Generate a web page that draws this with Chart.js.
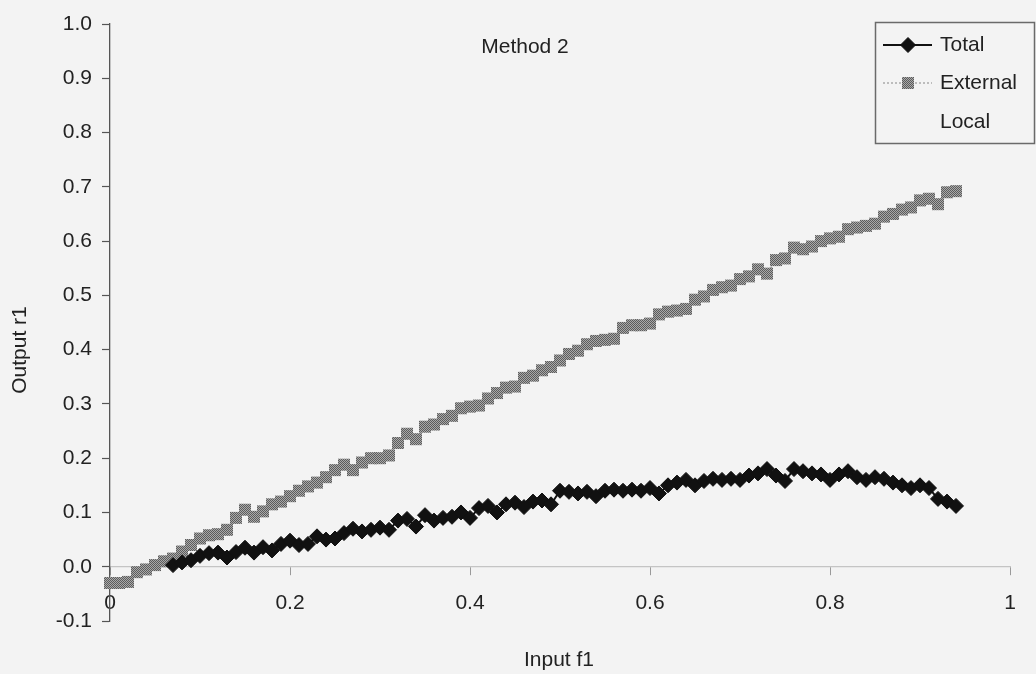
<!DOCTYPE html>
<html>
<head>
<meta charset="utf-8">
<script src="https://cdn.jsdelivr.net/npm/chart.js@4/dist/chart.umd.min.js"></script>
<style>
  html, body { margin: 0; padding: 0; background: #f3f3f3; }
  #wrap { width: 1036px; height: 674px; position: relative; }
</style>
</head>
<body>
<div id="wrap"><canvas id="c" width="1036" height="674"></canvas></div>
<script>
// Input f1 sample positions
const inputF1 = [
  0.00, 0.01, 0.02, 0.03, 0.04, 0.05, 0.06, 0.07, 0.08, 0.09,
  0.10, 0.11, 0.12, 0.13, 0.14, 0.15, 0.16, 0.17, 0.18, 0.19,
  0.20, 0.21, 0.22, 0.23, 0.24, 0.25, 0.26, 0.27, 0.28, 0.29,
  0.30, 0.31, 0.32, 0.33, 0.34, 0.35, 0.36, 0.37, 0.38, 0.39,
  0.40, 0.41, 0.42, 0.43, 0.44, 0.45, 0.46, 0.47, 0.48, 0.49,
  0.50, 0.51, 0.52, 0.53, 0.54, 0.55, 0.56, 0.57, 0.58, 0.59,
  0.60, 0.61, 0.62, 0.63, 0.64, 0.65, 0.66, 0.67, 0.68, 0.69,
  0.70, 0.71, 0.72, 0.73, 0.74, 0.75, 0.76, 0.77, 0.78, 0.79,
  0.80, 0.81, 0.82, 0.83, 0.84, 0.85, 0.86, 0.87, 0.88, 0.89,
  0.90, 0.91, 0.92, 0.93, 0.94
];

// Output r1, total response
const totalR1 = [
  null, null, null, null, null, null, null, 0.003, 0.008, 0.012,
  0.020, 0.025, 0.026, 0.017, 0.027, 0.035, 0.026, 0.036, 0.030, 0.042,
  0.048, 0.040, 0.042, 0.056, 0.050, 0.052, 0.062, 0.070, 0.065, 0.068,
  0.072, 0.068, 0.085, 0.088, 0.074, 0.095, 0.085, 0.090, 0.092, 0.100,
  0.090, 0.108, 0.112, 0.100, 0.115, 0.118, 0.110, 0.120, 0.122, 0.115,
  0.140, 0.138, 0.135, 0.138, 0.130, 0.140, 0.142, 0.140, 0.142, 0.140,
  0.145, 0.135, 0.150, 0.155, 0.160, 0.150, 0.158, 0.162, 0.160, 0.162,
  0.160, 0.168, 0.172, 0.180, 0.168, 0.158, 0.180, 0.176, 0.172, 0.170,
  0.160, 0.170, 0.176, 0.165, 0.160, 0.165, 0.162, 0.155, 0.150, 0.145,
  0.150, 0.145, 0.125, 0.120, 0.112
];

// Output r1, external response
const externalR1 = [
  -0.030, -0.030, -0.028, -0.010, -0.005, 0.003, 0.010, 0.015, 0.028, 0.040,
  0.052, 0.058, 0.060, 0.068, 0.090, 0.105, 0.092, 0.102, 0.115, 0.120,
  0.130, 0.140, 0.148, 0.155, 0.165, 0.178, 0.188, 0.178, 0.192, 0.200,
  0.200, 0.205, 0.228, 0.245, 0.235, 0.258, 0.262, 0.272, 0.278, 0.292,
  0.295, 0.297, 0.310, 0.320, 0.330, 0.332, 0.348, 0.352, 0.362, 0.368,
  0.380, 0.392, 0.398, 0.410, 0.416, 0.418, 0.420, 0.440, 0.445, 0.445,
  0.448, 0.465, 0.470, 0.472, 0.475, 0.492, 0.498, 0.510, 0.515, 0.518,
  0.530, 0.535, 0.548, 0.540, 0.565, 0.568, 0.588, 0.585, 0.590, 0.600,
  0.605, 0.608, 0.622, 0.625, 0.628, 0.632, 0.645, 0.650, 0.658, 0.662,
  0.675, 0.678, 0.668, 0.690, 0.692
];

// Local response: listed in the key, no plotted values
const localR1 = [];

const seriesNames = ['Total', 'External', 'Local'];
const xTicks = [0, 0.2, 0.4, 0.6, 0.8, 1];
const yTicks = [-0.1, 0.0, 0.1, 0.2, 0.3, 0.4, 0.5, 0.6, 0.7, 0.8, 0.9, 1.0];

const FONT = '"Liberation Sans", Arial, sans-serif';
const BG = '#f3f3f3';

// stippled grey fill for the External squares
function stipple() {
  const p = document.createElement('canvas');
  p.width = 2; p.height = 2;
  const g = p.getContext('2d');
  g.fillStyle = '#a9a9a9'; g.fillRect(0, 0, 2, 2);
  g.fillStyle = '#5c5c5c'; g.fillRect(0, 0, 1, 1); g.fillRect(1, 1, 1, 1);
  return g.createPattern(p, 'repeat');
}
const greyPattern = stipple();

const toPoints = (ys) => inputF1.map((x, i) => ({ x: x, y: ys[i] === undefined ? null : ys[i] }));

// page background, titles and the framed key
const decor = {
  id: 'decor',
  beforeDraw(chart) {
    const ctx = chart.ctx;
    ctx.save();
    ctx.fillStyle = BG;
    ctx.fillRect(0, 0, chart.width, chart.height);
    ctx.restore();
  },
  afterDraw(chart) {
    const ctx = chart.ctx;
    ctx.save();
    ctx.fillStyle = '#222';
    ctx.font = '21px ' + FONT;
    ctx.textAlign = 'center';
    ctx.textBaseline = 'middle';
    ctx.fillText('Method 2', 525, 47);
    ctx.fillText('Input f1', 559, 660);
    ctx.save();
    ctx.translate(20, 350);
    ctx.rotate(-Math.PI / 2);
    ctx.fillText('Output r1', 0, 0);
    ctx.restore();

    // key
    const bx = 875, by = 22, bw = 160, bh = 122;
    ctx.fillStyle = BG;
    ctx.fillRect(bx, by, bw, bh);
    ctx.strokeStyle = '#6a6a6a';
    ctx.lineWidth = 1.5;
    ctx.strokeRect(bx + 0.5, by + 0.5, bw - 1, bh - 1);

    const rows = [45, 83, 122];
    const ds = chart.data.datasets;
    rows.forEach((ry, i) => {
      const d = ds[i];
      if (d.data.length) {
        ctx.save();
        ctx.strokeStyle = d.borderColor;
        ctx.lineWidth = d.borderWidth;
        ctx.setLineDash(d.borderDash || []);
        ctx.beginPath();
        ctx.moveTo(883, ry);
        ctx.lineTo(932, ry);
        ctx.stroke();
        ctx.restore();
        ctx.fillStyle = d.pointBackgroundColor;
        ctx.strokeStyle = d.pointBorderColor;
        ctx.lineWidth = d.pointBorderWidth;
        Chart.helpers.drawPoint(ctx, {
          pointStyle: d.pointStyle,
          radius: d.pointRadius,
          borderWidth: d.pointBorderWidth,
          rotation: 0
        }, 908, ry);
      }
      ctx.fillStyle = '#222';
      ctx.font = '21px ' + FONT;
      ctx.textAlign = 'left';
      ctx.textBaseline = 'middle';
      ctx.fillText(seriesNames[i], 940, ry);
    });
    ctx.restore();
  }
};

new Chart(document.getElementById('c'), {
  type: 'scatter',
  data: {
    datasets: [
      {
        label: seriesNames[0],
        data: toPoints(totalR1),
        showLine: true,
        spanGaps: false,
        borderColor: '#111',
        borderWidth: 2,
        pointStyle: 'rectRot',
        pointRadius: 7.5,
        pointBackgroundColor: '#111',
        pointBorderColor: '#111',
        pointBorderWidth: 1,
        clip: false,
        order: 1
      },
      {
        label: seriesNames[1],
        data: toPoints(externalR1),
        showLine: true,
        borderColor: '#aaaaaa',
        borderWidth: 1.5,
        borderDash: [2, 2],
        pointStyle: 'rect',
        pointRadius: 8.5,
        pointBackgroundColor: greyPattern,
        pointBorderColor: greyPattern,
        pointBorderWidth: 0,
        clip: false,
        order: 2
      },
      {
        label: seriesNames[2],
        data: localR1,
        showLine: true,
        borderColor: '#dddddd',
        borderWidth: 1,
        pointRadius: 0,
        order: 3
      }
    ]
  },
  options: {
    responsive: false,
    animation: false,
    events: [],
    layout: { padding: { left: 0, right: 26, top: 24, bottom: 53 } },
    plugins: {
      legend: { display: false },
      title: { display: false },
      tooltip: { enabled: false }
    },
    scales: {
      x: {
        type: 'linear',
        position: { y: 0 },
        min: 0,
        max: 1,
        afterBuildTicks: (s) => { s.ticks = xTicks.map(v => ({ value: v })); },
        ticks: {
          color: '#222',
          font: { family: FONT, size: 21 },
          padding: 16,
          maxRotation: 0,
          callback: (v) => (v === 0 || v === 1) ? String(v) : v.toFixed(1)
        },
        grid: {
          display: true,
          drawOnChartArea: false,
          drawTicks: true,
          tickLength: 8,
          tickColor: '#9a9a9a',
          tickWidth: 1
        },
        border: { display: true, color: '#c4c4c4', width: 1.2, dash: [9, 9] }
      },
      y: {
        type: 'linear',
        position: 'left',
        min: -0.1,
        max: 1.0,
        afterBuildTicks: (s) => { s.ticks = yTicks.map(v => ({ value: v })); },
        afterFit: (s) => { s.width = 110; },
        ticks: {
          color: '#222',
          font: { family: FONT, size: 21 },
          padding: 10,
          callback: (v) => Number(v).toFixed(1)
        },
        grid: {
          display: true,
          drawOnChartArea: false,
          drawTicks: true,
          tickLength: 8,
          tickColor: '#555',
          tickWidth: 1.2
        },
        border: { display: true, color: '#555', width: 1.3 }
      }
    }
  },
  plugins: [decor]
});
</script>
</body>
</html>
